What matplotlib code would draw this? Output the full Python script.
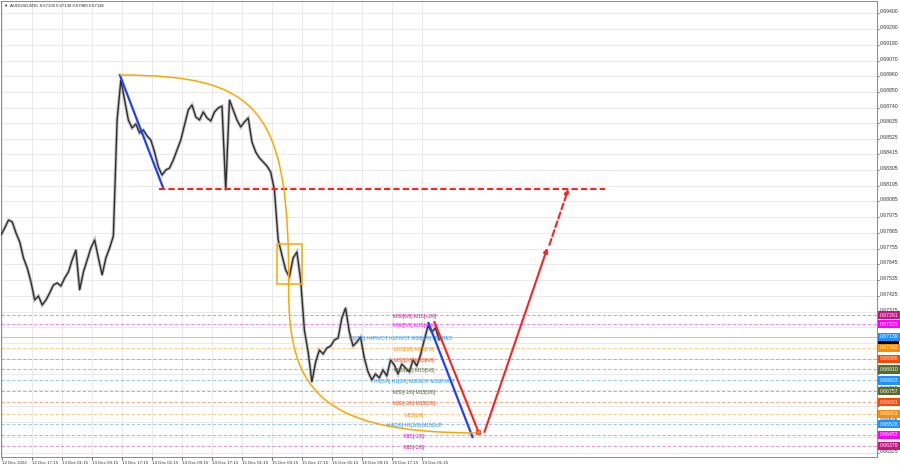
import numpy as np
import matplotlib
matplotlib.use("Agg")
import matplotlib.pyplot as plt
from matplotlib.path import Path
from matplotlib.patches import PathPatch, Rectangle

plt.rcParams['font.family'] = ['Liberation Sans', 'DejaVu Sans']

# ---------------- data ----------------
symbol = "AUDUSD,M15"
quote = [0.67135, 0.67136, 0.67089, 0.67118]

tick_labels = ["12 Dec 2022", "12 Dec 17:15", "13 Dec 01:15", "13 Dec 09:15", "13 Dec 17:15",
               "14 Dec 01:15", "14 Dec 09:15", "14 Dec 17:15", "15 Dec 01:15", "15 Dec 09:15",
               "15 Dec 17:15", "16 Dec 01:15", "16 Dec 09:15", "16 Dec 17:15", "19 Dec 01:15"]
bars_per_tick = 32      # 8 hours of M15 bars between time labels
bars_per_point = 4      # hourly sampled closes

close = [0.67851, 0.67900, 0.67955, 0.67942, 0.67865, 0.67802, 0.67690, 0.67620, 0.67522, 0.67396,
         0.67424, 0.67361, 0.67396, 0.67445, 0.67501, 0.67515, 0.67494, 0.67550, 0.67592, 0.67676,
         0.67746, 0.67466, 0.67592, 0.67676, 0.67760, 0.67816, 0.67690, 0.67571, 0.67690, 0.67760,
         0.67844, 0.68655, 0.68935, 0.68795, 0.68655, 0.68599, 0.68627, 0.68564, 0.68585, 0.68543,
         0.68515, 0.68431, 0.68326, 0.68270, 0.68305, 0.68319, 0.68375, 0.68445, 0.68515, 0.68620,
         0.68725, 0.68760, 0.68676, 0.68655, 0.68711, 0.68669, 0.68648, 0.68711, 0.68739, 0.68752,
         0.68165, 0.68795, 0.68725, 0.68655, 0.68606, 0.68641, 0.68669, 0.68501, 0.68431, 0.68389,
         0.68361, 0.68333, 0.68291, 0.68165, 0.67816, 0.67711, 0.67606, 0.67557, 0.67690, 0.67732,
         0.67536, 0.67186, 0.67032, 0.66823, 0.66962, 0.67046, 0.67018, 0.67060, 0.67074, 0.67116,
         0.67130, 0.67270, 0.67340, 0.67172, 0.67074, 0.67102, 0.67137, 0.66990, 0.66893, 0.66837,
         0.66879, 0.66851, 0.66907, 0.66865, 0.66976, 0.66942, 0.66879, 0.66948, 0.66921, 0.66893,
         0.66976, 0.66935, 0.67011, 0.67116, 0.67214, 0.67172, 0.67200, 0.67118]

y_ticks = [0.69400, 0.69290, 0.69180, 0.69070, 0.68960, 0.68850, 0.68740, 0.68635, 0.68525, 0.68415,
           0.68305, 0.68195, 0.68085, 0.67975, 0.67865, 0.67755, 0.67645, 0.67535, 0.67425, 0.67315,
           0.67205, 0.67095, 0.66985, 0.66875, 0.66765, 0.66655, 0.66545, 0.66435, 0.66325]

level_prices = [0.67291, 0.67225, 0.67139, 0.67062, 0.66986, 0.66910, 0.66833,
                0.66757, 0.66681, 0.66601, 0.66528, 0.66452, 0.66376]
level_colors = ['#C71585', '#FF00FF', '#1E90FF', '#FF8C00', '#FF4500', '#556B2F', '#1E90FF',
                '#556B2F', '#FF4500', '#FF8C00', '#1E90FF', '#FF00FF', '#C71585']
level_texts = ["M30[6/8] M15[+2/8]", "M30[5/8] M15[+1/8]",
               "H1[7/8] H4PIVOT H1PIVOT M30[4/8] M15RES",
               "M30[3/8] M15[7/8]", "M30[2/8] M15[6/8]", "M30[1/8] M15[5/8]",
               "H4[3/8] H1[3/8] M30SOP M15PIVOT", "M30[-1/8] M15[3/8]", "M30[-2/8] M15[2/8]",
               "M15[1/8]", "H4[2/8] H1[2/8] M15SUP", "M15[-1/8]", "M15[-2/8]"]
level_solid = [False, False, True, False, False, False, False, False, False, False, False, False, False]

# drawing objects (bar index, price)
trend1_bars, trend1_prices = [126.9, 172.8], [0.68969, 0.68186]
trend2_bars, trend2_prices = [456.5, 503.5], [0.67235, 0.66438]
red1_bars, red1_prices = [462.9, 509.9], [0.67242, 0.66473]
red2_bars, red2_prices = [516.3, 583.5], [0.66473, 0.67760]
red3_bars, red3_prices = [585.6, 605.9], [0.67781, 0.68172]
target_bars, target_price = [168.5, 645.3], 0.68172
box_bars, box_prices = [294.4, 321.1], [0.67508, 0.67788]
arc_bars = [126.9, 277.3, 308.3, 307.2, 307.2, 341.3, 508.8]
arc_prices = [0.68969, 0.68969, 0.68725, 0.67466, 0.66767, 0.66466, 0.66466]

# ---------------- figure ----------------
W, H = 900, 468
fig = plt.figure(figsize=(9, 4.68), dpi=100)
fig.patch.set_facecolor('white')
ax = fig.add_axes([1 / W, 11 / H, 876 / W, 456 / H])
ax.set_facecolor('white')
ax.set_xlim(0, 935.5)
ax.set_ylim(0.66298, 0.69487)

# grid / ticks
xt = [1.6 + bars_per_tick * k for k in range(len(tick_labels))]
ax.set_xticks(xt)
ax.set_xticklabels(tick_labels, ha='left')
ax.set_yticks(y_ticks)
ax.set_yticklabels([f"{v:.5f}" for v in y_ticks])
ax.yaxis.tick_right()
ax.tick_params(axis='y', labelsize=3.7, length=1.5, pad=0.8, colors='#333333', width=0.5)
ax.tick_params(axis='x', labelsize=3.2, length=2, pad=1.0, colors='#333333', width=0.5)
for lab in ax.get_yticklabels():
    lab.set_va('baseline')
ax.grid(True, color='#E6E6E6', lw=0.6)
ax.set_axisbelow(True)
for s in ax.spines.values():
    s.set_color('#8A8A8A')
    s.set_linewidth(0.7)

# levels
for p, c, t, solid in zip(level_prices, level_colors, level_texts, level_solid):
    ax.axhline(p, color=c, lw=0.6, alpha=0.5 if solid else 0.55,
               ls='-' if solid else (0, (4, 2.5)), zorder=1.5)
    ax.annotate(t, xy=(426.7 if 'PIVOT H1PIVOT' in t else 441.6, p), xytext=(0, -1),
                textcoords='offset points', ha='center', va='center', fontsize=3.6,
                color=c, zorder=4)

# price series (bar wicks look: light halo under dark closes)
bx = np.arange(len(close)) * bars_per_point
ax.plot(bx, close, color='#9A9A9A', lw=2.4, alpha=0.55, zorder=2.8, solid_joinstyle='miter')
ax.plot(bx, close, color='#2E2E2E', lw=1.0, zorder=3)

# drawing objects
ax.plot(trend1_bars, trend1_prices, color='#2040FF', lw=1.6, zorder=5)
ax.plot(trend2_bars, trend2_prices, color='#2040FF', lw=1.6, zorder=5)
ax.plot(target_bars, [target_price, target_price], color='#FF2020', lw=1.5,
        ls=(0, (3, 1.5)), zorder=5)
ax.plot(red1_bars, red1_prices, color='#FF2020', lw=1.5, zorder=5)
ax.annotate('', xy=(red2_bars[1], red2_prices[1]), xytext=(red2_bars[0], red2_prices[0]),
            arrowprops=dict(arrowstyle='-|>', color='#FF2020', lw=1.5, mutation_scale=6,
                            shrinkA=0, shrinkB=0), zorder=5)
ax.annotate('', xy=(red3_bars[1], red3_prices[1]), xytext=(red3_bars[0], red3_prices[0]),
            arrowprops=dict(arrowstyle='-|>', color='#FF2020', lw=1.5, mutation_scale=6,
                            shrinkA=0, shrinkB=0, linestyle=(0, (3, 1.5))), zorder=5)
ax.plot([red1_bars[1]], [red1_prices[1]], marker='s', ms=2.5, color='#FF8C00',
        mec='#FF2020', mew=0.5, zorder=6)

ax.add_patch(Rectangle((box_bars[0], box_prices[0]), box_bars[1] - box_bars[0],
                       box_prices[1] - box_prices[0], fill=False, ec='#FFA500', lw=1.1, zorder=5))
codes = [Path.MOVETO, Path.CURVE4, Path.CURVE4, Path.CURVE4, Path.CURVE4, Path.CURVE4, Path.CURVE4]
arc = Path(np.column_stack([arc_bars, arc_prices]), codes)
ax.add_patch(PathPatch(arc, fill=False, ec='#FFA500', lw=1.1, zorder=5))

# right-side colored price labels
def price_box(p, bg, fg='white', z=7):
    ax.text(1.0027, p, f"{p:.5f}", transform=ax.get_yaxis_transform(), ha='left', va='center',
            fontsize=3.7, color=fg, clip_on=False, zorder=z,
            bbox=dict(boxstyle='square,pad=0.3', fc=bg, ec='none'))

price_box(quote[3], '#000000', z=6)
for p, c in zip(level_prices, level_colors):
    price_box(p, c)

# header
fig.text(3 / W, 1 - 6 / H, "\u25BC", fontsize=3.0, color='#222222', va='center', ha='left')
fig.text(10 / W, 1 - 6 / H, f"{symbol}  " + " ".join(f"{q:.5f}" for q in quote),
         fontsize=3.1, color='#222222', va='center', ha='left')

fig.savefig("out.png", dpi=100, facecolor='white')
